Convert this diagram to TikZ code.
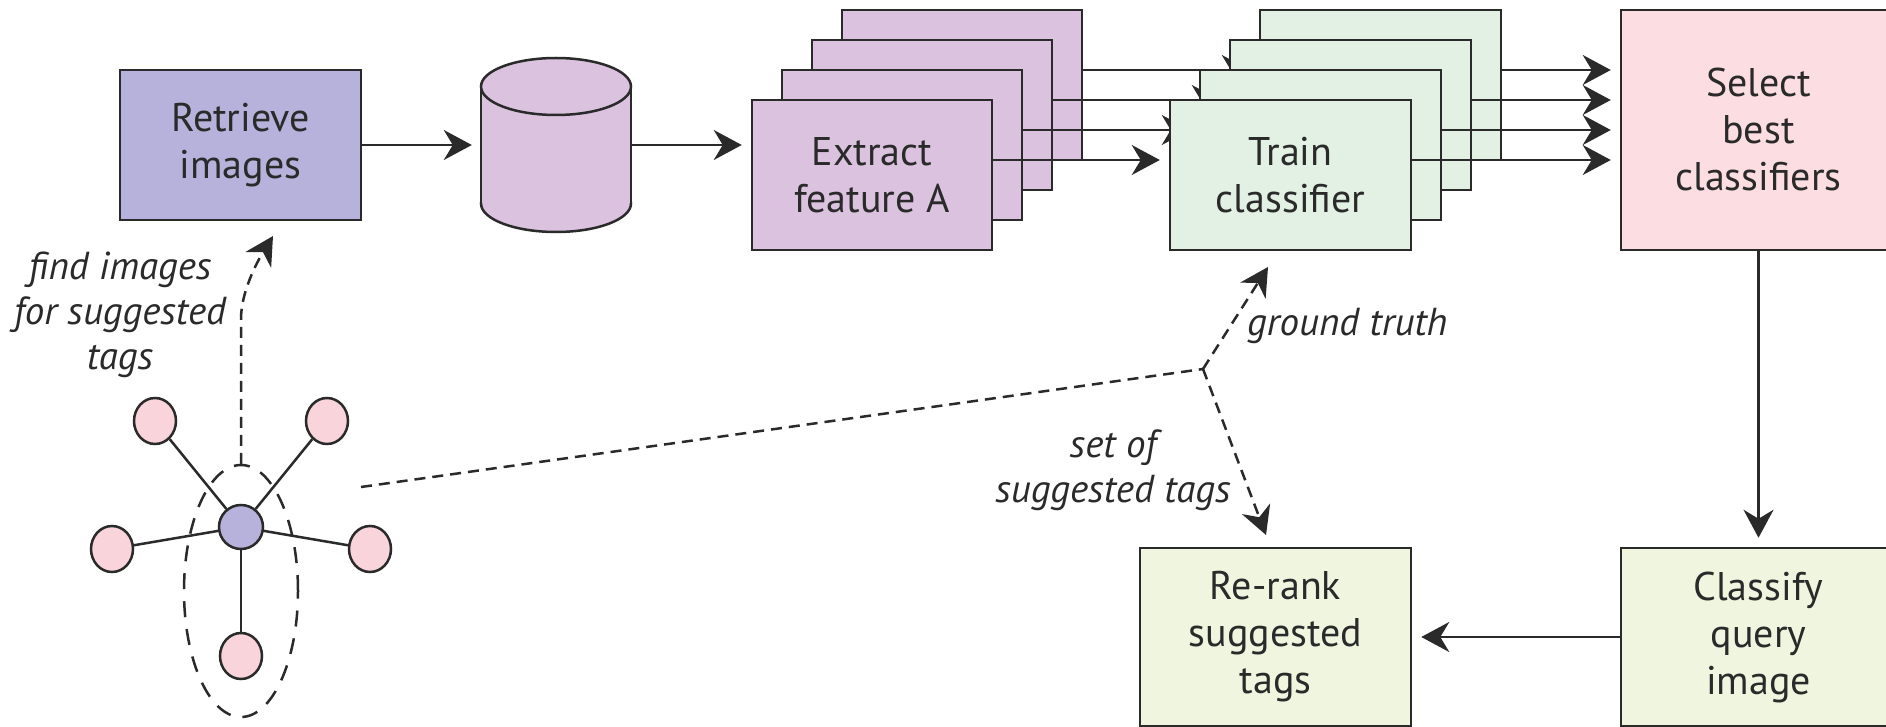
\documentclass[tikz,border=0pt]{standalone}
\usepackage{fontspec}
\setmainfont{PT Sans}
\usetikzlibrary{arrows.meta,shapes.geometric,calc}
\definecolor{linec}{HTML}{2A2A2A}
\definecolor{retc}{HTML}{B6B2DB}
\definecolor{purc}{HTML}{DBC2DF}
\definecolor{grnc}{HTML}{E3F1E4}
\definecolor{selc}{HTML}{FCDDE1}
\definecolor{limc}{HTML}{F0F5DF}
\definecolor{pnkc}{HTML}{F9D4DA}
\begin{document}
\begin{tikzpicture}[x=1pt,y=-1pt,
  box/.style={draw=linec,line width=2.5pt,align=center,inner sep=0pt,text=linec,
    font=\fontsize{40}{47}\selectfont},
  arr/.style={draw=linec,line width=2.5pt,-{Stealth[length=28pt,width=30pt,inset=9pt]},shorten >=9pt},
  dline/.style={draw=linec,line width=2.5pt,dash pattern=on 11pt off 7pt},
  darr/.style={dline,-{Stealth[length=28pt,width=30pt,inset=9pt]}},
  lab/.style={inner sep=0pt,text=linec,font=\itshape\fontsize{39}{45}\selectfont},
  gnode/.style={draw=linec,line width=2.5pt,ellipse,inner sep=0pt,minimum width=44pt,minimum height=44pt},
  pnode/.style={gnode,fill=pnkc,minimum width=42pt,minimum height=46pt},
  edge/.style={draw=linec,line width=2.5pt}]
\useasboundingbox (0,0) rectangle (1886,727);
\clip (0,0) rectangle (1886,727);

% retrieve and database
\node[box,fill=retc,minimum width=241pt,minimum height=150pt] (ret) at (240.5,145) {Retrieve\\images};
\node[inner sep=0pt,minimum width=150pt,minimum height=175pt] (db) at (556,145) {};
\filldraw[fill=purc,draw=linec,line width=2.5pt] (556,203.5) ellipse [x radius=75pt,y radius=28.5pt];
\fill[purc] (481,86.5) rectangle (631,203.5);
\draw[linec,line width=2.5pt] (481,86.5) -- (481,203.5) (631,86.5) -- (631,203.5);
\filldraw[fill=purc,draw=linec,line width=2.5pt] (556,86.5) ellipse [x radius=75pt,y radius=28.5pt];
\draw[arr] (ret) -- (db);

% select box
\node[box,fill=selc,minimum width=275pt,minimum height=240pt] (sel) at (1758.5,130) {Select\\best\\classifiers};

% stacks of feature and classifier boxes
\foreach \k in {3,2,1,0}{
  \node[box,fill=purc,minimum width=240pt,minimum height=150pt] (e\k) at ({872+30*\k},{175-30*\k}) {};
  \node[box,fill=grnc,minimum width=241pt,minimum height=150pt] (t\k) at ({1290.5+30*\k},{175-30*\k}) {};
  \coordinate (a\k) at ($(e\k.east)+(0,-15)$);
  \coordinate (o\k) at ($(t\k.east)+(0,-15)$);
  \draw[arr] (a\k) -- (a\k -| t\k.west);
  \draw[arr] (o\k) -- (o\k -| sel.west);
}
\node[box,draw=none] (etext) at (e0) {Extract\\feature A};
\node[box,draw=none] (ttext) at (t0) {Train\\classifier};
\draw[arr] (db.east) -- (db.east -| e0.west);

% lower boxes
\node[box,fill=limc,minimum width=275pt,minimum height=178pt] (cls) at (1758.5,637) {Classify\\query\\image};
\node[box,fill=limc,minimum width=271pt,minimum height=178pt] (rr) at (1275.5,637) {Re-rank\\suggested\\tags};
\draw[arr] (sel) -- (cls);
\draw[arr] (cls) -- (rr);

% graph
\node[draw=linec,line width=2.5pt,dash pattern=on 16pt off 12pt,ellipse,inner sep=0pt,
  minimum width=114pt,minimum height=252pt] (grp) at (241,591) {};
\node[gnode,fill=retc] (c) at (241,527) {};
\node[pnode] (p1) at (155,421) {};
\node[pnode] (p2) at (327,421) {};
\node[pnode] (p3) at (112,549) {};
\node[pnode] (p4) at (370,549) {};
\node[pnode] (p5) at (241,656) {};
\foreach \p in {p1,p2,p3,p4,p5}{\draw[edge] (c) -- (\p);}

% dashed connections
\coordinate (rtip) at (273,236);
\draw[darr] (grp.north) -- (241,319) .. controls (241,292) and (257,262) .. (rtip);
\coordinate (gs) at (361,487);
\coordinate (J) at (1203,369);
\coordinate (gtip) at (1268,267);
\coordinate (stip) at (1266,535);
\draw[dline] (gs) -- (J);
\draw[darr] (J) -- (gtip);
\draw[darr] (J) -- (stip);

% labels
\node[lab,align=center] (lfind) at (120,315) {find images\\for suggested\\tags};
\node[lab,anchor=west] (lgt) at (1247,326) {ground truth};
\node[lab,align=center] (lset) at (1113,470) {set of\\suggested tags};
\end{tikzpicture}
\end{document}
